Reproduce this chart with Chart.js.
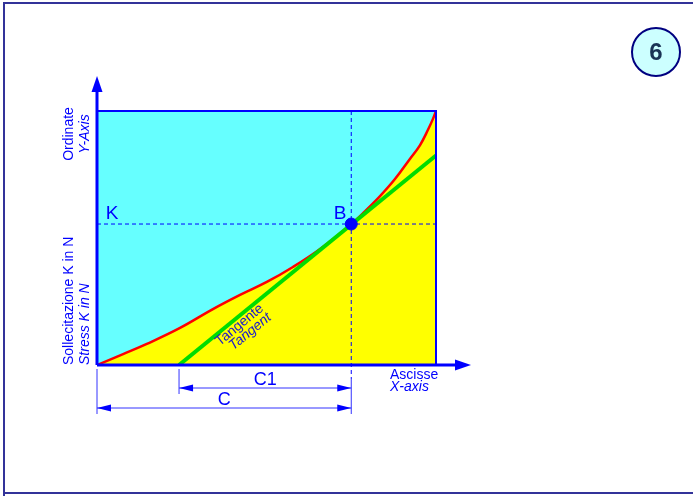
<!DOCTYPE html>
<html>
<head>
<meta charset="utf-8">
<script src="https://cdn.jsdelivr.net/npm/chart.js@4.4.1/dist/chart.umd.min.js"></script>
<style>
  html, body { margin: 0; padding: 0; background: #fff; }
  canvas { display: block; }
</style>
</head>
<body>
<canvas id="myChart" width="693" height="496"></canvas>
<script>
// curve K = f(x), in percent of the plot box
const curveX = [0, 7.7, 14.7, 24.5, 34.2, 42.2, 50.1, 57.8, 65.8, 75, 79.1, 83.5, 87.9, 92.3, 95.3, 97.6, 99.1, 100];
const curveY = [0, 4.3, 8.3, 14.6, 22.0, 27.6, 32.7, 38.6, 45.7, 55.5, 60.6, 66.5, 73.2, 81.1, 86.6, 92.5, 96.9, 100];
// tangent through B
const tangentX = [24.2, 100];
const tangentY = [0, 82.5];
const pointB = { x: 75, y: 55.5 };
// dimension lines (x from / to)
const dimC1 = [24.2, 75];
const dimC = [0, 75];

const BLUE = "#0000ff";

function arrowHead(ctx, x, y, dir, len, half) {
    ctx.beginPath();
    if (dir === "right") { ctx.moveTo(x, y); ctx.lineTo(x - len, y - half); ctx.lineTo(x - len, y + half); }
    if (dir === "left") { ctx.moveTo(x, y); ctx.lineTo(x + len, y - half); ctx.lineTo(x + len, y + half); }
    if (dir === "up") { ctx.moveTo(x, y); ctx.lineTo(x - half, y + len); ctx.lineTo(x + half, y + len); }
    ctx.closePath();
    ctx.fill();
}

const diagram = {
    id: "diagram",
    beforeDatasetsDraw(chart) {
        const ctx = chart.ctx, a = chart.chartArea;
        ctx.save();
        ctx.fillStyle = "#66ffff";
        ctx.fillRect(a.left, a.top, a.right - a.left, a.bottom - a.top);
        ctx.restore();
    },
    afterDatasetDraw(chart, args) {
        if (args.index !== 0) return;
        const ctx = chart.ctx, a = chart.chartArea;
        const xs = chart.scales.x, ys = chart.scales.y;
        const bx = xs.getPixelForValue(pointB.x), by = ys.getPixelForValue(pointB.y);
        ctx.save();
        ctx.strokeStyle = BLUE;
        ctx.lineWidth = 1;
        ctx.setLineDash([4, 3]);
        ctx.beginPath();
        ctx.moveTo(a.left, by); ctx.lineTo(a.right, by);
        ctx.moveTo(bx, a.top); ctx.lineTo(bx, a.bottom + 14);
        ctx.stroke();
        ctx.restore();
    },
    afterDraw(chart) {
        const ctx = chart.ctx, a = chart.chartArea;
        const xs = chart.scales.x;
        ctx.save();

        // frame
        ctx.fillStyle = "#333399";
        ctx.fillRect(3, 2, 690, 2);
        ctx.fillRect(3, 2, 2, 494);
        ctx.fillRect(3, 492, 690, 2);

        // plot box
        ctx.strokeStyle = BLUE;
        ctx.lineWidth = 2;
        ctx.beginPath();
        ctx.moveTo(a.left, a.top); ctx.lineTo(a.right, a.top); ctx.lineTo(a.right, a.bottom);
        ctx.stroke();

        // axes
        ctx.lineWidth = 3;
        ctx.beginPath();
        ctx.moveTo(a.left, a.bottom); ctx.lineTo(a.right + 22, a.bottom);
        ctx.moveTo(a.left, a.bottom); ctx.lineTo(a.left, a.top - 22);
        ctx.stroke();
        ctx.fillStyle = BLUE;
        arrowHead(ctx, a.right + 35, a.bottom, "right", 16, 5.5);
        arrowHead(ctx, a.left, a.top - 35, "up", 16, 5.5);

        // dimension lines
        const x0 = xs.getPixelForValue(dimC[0]);
        const x1 = xs.getPixelForValue(dimC1[0]);
        const xb = xs.getPixelForValue(dimC1[1]);
        ctx.strokeStyle = "#3333ff";
        ctx.lineWidth = 1;
        ctx.beginPath();
        ctx.moveTo(x0, a.bottom + 4); ctx.lineTo(x0, a.bottom + 49);
        ctx.moveTo(x1, a.bottom + 4); ctx.lineTo(x1, a.bottom + 29);
        ctx.moveTo(xb, a.bottom + 14); ctx.lineTo(xb, a.bottom + 49);
        ctx.moveTo(x1, a.bottom + 23); ctx.lineTo(xb, a.bottom + 23);
        ctx.moveTo(x0, a.bottom + 43); ctx.lineTo(xb, a.bottom + 43);
        ctx.stroke();
        ctx.fillStyle = BLUE;
        arrowHead(ctx, x1, a.bottom + 23, "left", 14, 3.5);
        arrowHead(ctx, xb, a.bottom + 23, "right", 14, 3.5);
        arrowHead(ctx, x0, a.bottom + 43, "left", 14, 3.5);
        arrowHead(ctx, xb, a.bottom + 43, "right", 14, 3.5);

        // labels
        ctx.fillStyle = BLUE;
        ctx.textAlign = "center";
        ctx.textBaseline = "alphabetic";
        ctx.font = "18px 'Liberation Sans', Arial, sans-serif";
        ctx.fillText("C1", (x1 + xb) / 2, a.bottom + 20);
        ctx.fillText("C", (x0 + xb) / 2, a.bottom + 40);
        ctx.font = "19px 'Liberation Sans', Arial, sans-serif";
        ctx.fillText("K", a.left + 15, 219);
        ctx.fillText("B", 340, 219);

        ctx.textAlign = "left";
        ctx.font = "14px 'Liberation Sans', Arial, sans-serif";
        ctx.fillText("Ascisse", 390, 379);
        ctx.font = "italic 14px 'Liberation Sans', Arial, sans-serif";
        ctx.fillText("X-axis", 390, 391);

        // y axis titles
        ctx.save();
        ctx.translate(73, 0);
        ctx.rotate(-Math.PI / 2);
        ctx.textAlign = "center";
        ctx.font = "14px 'Liberation Sans', Arial, sans-serif";
        ctx.fillText("Ordinate", -134, 0);
        ctx.textAlign = "left";
        ctx.fillText("Sollecitazione K in N", -365, 0);
        ctx.restore();
        ctx.save();
        ctx.translate(89, 0);
        ctx.rotate(-Math.PI / 2);
        ctx.font = "italic 14px 'Liberation Sans', Arial, sans-serif";
        ctx.textAlign = "center";
        ctx.fillText("Y-Axis", -134, 0);
        ctx.textAlign = "left";
        ctx.fillText("Stress K in N", -365, 0);
        ctx.restore();

        // tangent label
        ctx.save();
        ctx.translate(242, 328);
        ctx.rotate(-Math.atan2(141, 172));
        ctx.textAlign = "center";
        ctx.fillStyle = "#1a1acc";
        ctx.font = "14px 'Liberation Sans', Arial, sans-serif";
        ctx.fillText("Tangente", 0, 0);
        ctx.font = "italic 14px 'Liberation Sans', Arial, sans-serif";
        ctx.fillText("Tangent", 4, 12);
        ctx.restore();

        // badge
        ctx.beginPath();
        ctx.arc(656, 52, 24, 0, Math.PI * 2);
        ctx.fillStyle = "#ccffff";
        ctx.fill();
        ctx.lineWidth = 2;
        ctx.strokeStyle = "#000080";
        ctx.stroke();
        ctx.fillStyle = "#1a3355";
        ctx.textAlign = "center";
        ctx.textBaseline = "middle";
        ctx.font = "bold 24px 'Liberation Sans', Arial, sans-serif";
        ctx.fillText("6", 656, 53);

        ctx.restore();
    }
};

let myChart = document.getElementById("myChart").getContext("2d");

let diagramChart = new Chart(myChart, {
    type: "line",
    data: {
        datasets: [
            {
                label: "K",
                data: curveX.map((x, i) => ({ x: x, y: curveY[i] })),
                borderColor: "#ff0000",
                borderWidth: 2.5,
                backgroundColor: "#ffff00",
                fill: "origin",
                tension: 0.4,
                pointRadius: 0,
                order: 3
            },
            {
                label: "Tangente",
                data: tangentX.map((x, i) => ({ x: x, y: tangentY[i] })),
                borderColor: "#00dd00",
                borderWidth: 4,
                fill: false,
                pointRadius: 0,
                order: 2
            },
            {
                label: "B",
                type: "scatter",
                data: [pointB],
                backgroundColor: "#0000ff",
                borderColor: "#0000ff",
                pointRadius: 6,
                order: 1
            }
        ]
    },
    options: {
        responsive: false,
        animation: false,
        layout: { padding: { left: 97, right: 257, top: 111, bottom: 131 } },
        scales: {
            x: { type: "linear", min: 0, max: 100, display: false },
            y: { type: "linear", min: 0, max: 100, display: false }
        },
        plugins: {
            legend: { display: false },
            tooltip: { enabled: false },
            title: { display: false }
        }
    },
    plugins: [diagram]
});
</script>
</body>
</html>
